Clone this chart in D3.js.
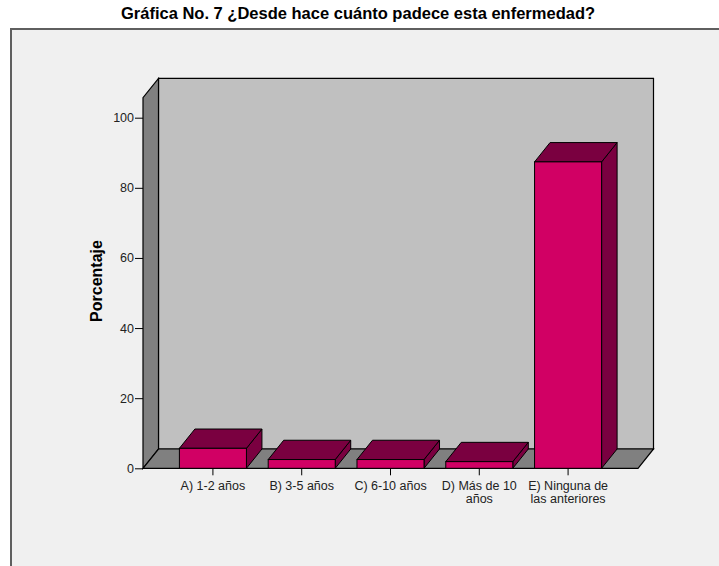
<!DOCTYPE html>
<html>
<head>
<meta charset="utf-8">
<script src="https://cdn.jsdelivr.net/npm/d3@7"></script>
<style>
  html, body { margin: 0; padding: 0; background: #ffffff; }
  svg { display: block; }
</style>
</head>
<body>
<script>
// Chart data
const titleText = "Gráfica No. 7 ¿Desde hace cuánto padece esta enfermedad?";
const categories = ["A) 1-2 años", "B) 3-5 años", "C) 6-10 años", "D) Más de 10 años", "E) Ninguna de las anteriores"];
const categoryLines = [["A) 1-2 años"], ["B) 3-5 años"], ["C) 6-10 años"], ["D) Más de 10", "años"], ["E) Ninguna de", "las anteriores"]];
const percentages = [5.7, 2.5, 2.5, 1.9, 87.4];
const yTicks = [0, 20, 40, 60, 80, 100];
const yAxisTitle = "Porcentaje";

const W = 719, H = 566;
const font = "Liberation Sans, Arial, sans-serif";
const svg = d3.select("body").append("svg").attr("width", W).attr("height", H);

// Outer panel
svg.append("rect").attr("x", 0).attr("y", 0).attr("width", W).attr("height", H).attr("fill", "#ffffff");
svg.append("rect").attr("x", 11).attr("y", 29).attr("width", W + 20).attr("height", H + 20)
  .attr("fill", "#f0f0f0").attr("stroke", "#5f5f5f").attr("stroke-width", 2);

svg.append("text").attr("x", 358).attr("y", 19).attr("text-anchor", "middle")
  .attr("font-family", font).attr("font-weight", "bold")
  .attr("font-size", 16.5).attr("fill", "#000").text(titleText);

// 3D geometry
const depthX = 15.5, depthY = -19.3;
const x0 = 143, x1 = 638;
const axisMax = 105.7;
const y = d3.scaleLinear().domain([0, 100]).range([468.3, 117.7]);
const x = d3.scaleBand().domain(categories).range([x0, x1]).paddingInner(0.245).paddingOuter(0.41);

const yBase = y(0), yTop = y(axisMax);
const pts = a => a.map(p => p.join(",")).join(" ");

// Back wall
svg.append("polygon")
  .attr("points", pts([[x0 + depthX, yTop + depthY], [x1 + depthX, yTop + depthY], [x1 + depthX, yBase + depthY], [x0 + depthX, yBase + depthY]]))
  .attr("fill", "#c0c0c0").attr("stroke", "#000").attr("stroke-width", 1.2);
// Left wall
svg.append("polygon")
  .attr("points", pts([[x0, yBase], [x0, yTop], [x0 + depthX, yTop + depthY], [x0 + depthX, yBase + depthY]]))
  .attr("fill", "#808080").attr("stroke", "#000").attr("stroke-width", 1.2);
// Floor
svg.append("polygon")
  .attr("points", pts([[x0, yBase], [x1, yBase], [x1 + depthX, yBase + depthY], [x0 + depthX, yBase + depthY]]))
  .attr("fill", "#808080").attr("stroke", "#000").attr("stroke-width", 1.2);

// Bars: side, top, then front face
const bars = svg.append("g").selectAll("g").data(categories).join("g");
bars.each(function(c, i) {
  const g = d3.select(this);
  const bx = x(c), bw = x.bandwidth(), by = y(percentages[i]);
  g.append("polygon")
    .attr("points", pts([[bx + bw, by], [bx + bw + depthX, by + depthY], [bx + bw + depthX, yBase + depthY], [bx + bw, yBase]]))
    .attr("fill", "#7a0040").attr("stroke", "#000").attr("stroke-width", 1);
  g.append("polygon")
    .attr("points", pts([[bx, by], [bx + depthX, by + depthY], [bx + bw + depthX, by + depthY], [bx + bw, by]]))
    .attr("fill", "#7a0040").attr("stroke", "#000").attr("stroke-width", 1);
  g.append("rect").attr("x", bx).attr("y", by).attr("width", bw).attr("height", yBase - by)
    .attr("fill", "#d10064").attr("stroke", "#000").attr("stroke-width", 1);
});

// Y axis
const yAxis = d3.axisLeft(y).tickValues(yTicks).tickSize(8).tickPadding(1).tickFormat(d3.format("d"));
const yg = svg.append("g").attr("transform", `translate(${x0},0)`).call(yAxis);
yg.select(".domain").remove();
yg.selectAll("line").attr("stroke", "#000");
yg.selectAll("text").attr("font-family", font).attr("font-size", 12.5).attr("fill", "#222");

// X axis
const xAxis = d3.axisBottom(x).tickSize(7).tickFormat("");
const xg = svg.append("g").attr("transform", `translate(0,${yBase})`).call(xAxis);
xg.select(".domain").remove();
xg.selectAll("line").attr("stroke", "#000");
xg.selectAll(".tick").each(function(c, i) {
  const t = d3.select(this).append("text").attr("y", 21.5).attr("text-anchor", "middle")
    .attr("font-family", font).attr("font-size", 12.5).attr("fill", "#222");
  categoryLines[i].forEach((line, k) => t.append("tspan").attr("x", 0).attr("dy", k === 0 ? 0 : 13).text(line));
});

// Y axis title
svg.append("text").attr("transform", "translate(102,281) rotate(-90)").attr("text-anchor", "middle")
  .attr("font-family", font).attr("font-weight", "bold")
  .attr("font-size", 16).attr("fill", "#000").text(yAxisTitle);
</script>
</body>
</html>
